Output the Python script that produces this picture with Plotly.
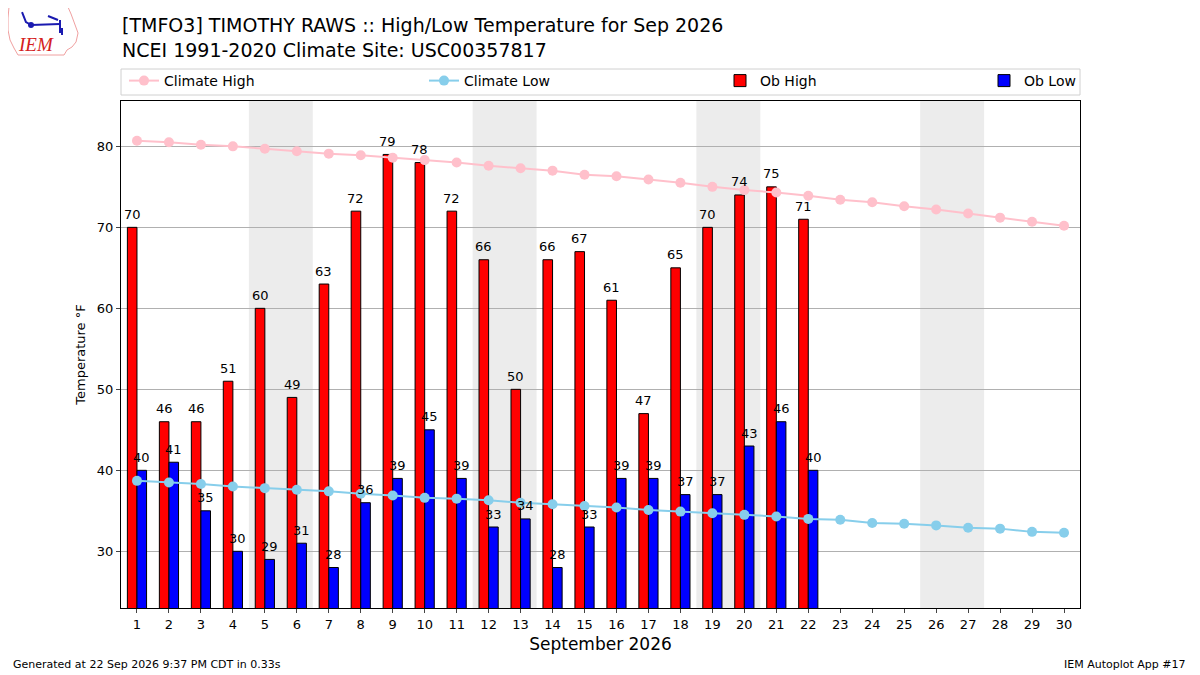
import plotly.graph_objects as go

# September 2026 daily obs and NCEI climatology
days = list(range(1, 31))
ob_high = [70, 46, 46, 51, 60, 49, 63, 72, 79, 78, 72, 66, 50, 66, 67, 61, 47, 65, 70, 74, 75, 71]
ob_low = [40, 41, 35, 30, 29, 31, 28, 36, 39, 45, 39, 33, 34, 28, 33, 39, 39, 37, 37, 43, 46, 40]
climate_high = [80.7, 80.5, 80.2, 80.0, 79.7, 79.4, 79.1, 78.9, 78.6, 78.3, 78.0, 77.6, 77.3, 77.0, 76.5,
                76.3, 75.9, 75.5, 75.0, 74.6, 74.3, 73.9, 73.4, 73.1, 72.6, 72.2, 71.7, 71.2, 70.7, 70.2]
climate_low = [38.7, 38.5, 38.3, 38.0, 37.8, 37.6, 37.4, 37.1, 36.9, 36.6, 36.5, 36.3, 36.0, 35.8, 35.6,
               35.4, 35.1, 34.9, 34.7, 34.5, 34.3, 34.0, 33.9, 33.5, 33.4, 33.2, 32.9, 32.8, 32.4, 32.3]
weekend_starts = [5, 12, 19, 26]

FONT = "DejaVu Sans"
OFF = 8  # page body margin in the browser
W, H = 1200 - OFF, 675 - OFF
ml, mr, mt, mb = 121 - OFF, 120, 101 - OFF, 67
ph = H - mt - mb
pw = W - ml - mr
BAR_SHIFT = 0.15  # half of a bar slot in the grouped layout


def py(y_px):
    # screen pixel row -> paper y
    return (H - mb - (y_px - OFF)) / ph


def px_(x_px):
    return (x_px - OFF - ml) / pw


fig = go.Figure()

fig.add_trace(go.Bar(x=days[:len(ob_high)], y=ob_high, name="Ob High", legend="legend3",
                     marker=dict(color="red", line=dict(color="black", width=1))))
fig.add_trace(go.Bar(x=days[:len(ob_low)], y=ob_low, name="Ob Low", legend="legend4",
                     marker=dict(color="blue", line=dict(color="black", width=1))))
fig.add_trace(go.Scatter(x=days, y=climate_high, name="Climate High", mode="lines+markers", legend="legend",
                         line=dict(color="pink", width=2), marker=dict(size=10, color="pink")))
fig.add_trace(go.Scatter(x=days, y=climate_low, name="Climate Low", mode="lines+markers", legend="legend2",
                         line=dict(color="skyblue", width=2), marker=dict(size=10, color="skyblue")))

# bar value labels, drawn on top of everything
for vals, shift in ((ob_high, -BAR_SHIFT), (ob_low, BAR_SHIFT)):
    for d, v in zip(days, vals):
        fig.add_annotation(x=d + shift, y=v, xref="x", yref="y", text=str(v), showarrow=False,
                           xanchor="center", yanchor="middle", yshift=13,
                           font=dict(size=13, color="black", family=FONT))

for d in weekend_starts:
    fig.add_shape(type="rect", xref="x", yref="paper", x0=d - 0.5, x1=d + 1.5, y0=0, y1=1,
                  fillcolor="#ececec", line=dict(width=0), layer="below")

# legend frame
fig.add_shape(type="rect", xref="paper", yref="paper", x0=0, x1=1, y0=py(95), y1=py(69),
              line=dict(color="#d0d0d0", width=1), fillcolor="rgba(0,0,0,0)", layer="below")

fig.add_annotation(x=px_(120), y=py(12), xref="paper", yref="paper", xanchor="left", yanchor="top",
                   align="left", showarrow=False, font=dict(size=19, color="black", family=FONT),
                   text="[TMFO3] TIMOTHY RAWS :: High/Low Temperature for Sep 2026<br>NCEI 1991-2020 Climate Site: USC00357817")
fig.add_annotation(x=px_(11), y=py(673), xref="paper", yref="paper", xanchor="left", yanchor="bottom",
                   showarrow=False, font=dict(size=11, color="black", family=FONT),
                   text="Generated at 22 Sep 2026 9:37 PM CDT in 0.33s")
fig.add_annotation(x=px_(1188), y=py(673), xref="paper", yref="paper", xanchor="right", yanchor="bottom",
                   showarrow=False, font=dict(size=11, color="black", family=FONT),
                   text="IEM Autoplot App #17")


def pth(pts, close=False):
    s = "M " + " L ".join(f"{px_(a):.4f},{py(b):.4f}" for a, b in pts)
    return s + (" Z" if close else "")


# logo: rough state outline, station glyph and IEM text
outline = [(9, 7), (68, 7), (71, 14), (74, 22), (78, 33), (76, 42), (72, 47), (67, 50), (64, 55),
           (18, 55), (14, 48), (10, 40), (8, 30), (8, 18)]
fig.add_shape(type="path", xref="paper", yref="paper", path=pth(outline, True),
              line=dict(color="#f0a0a0", width=1), fillcolor="rgba(0,0,0,0)")
glyph = [[(31, 25), (60, 24)], [(60, 20), (60, 33)], [(48, 16), (58, 20)], [(22, 12), (26, 22), (31, 25)],
         [(62, 28), (62, 35)]]
for seg in glyph:
    fig.add_shape(type="path", xref="paper", yref="paper", path=pth(seg),
                  line=dict(color="#1a1ab0", width=2))
fig.add_shape(type="circle", xref="paper", yref="paper", x0=px_(28), x1=px_(34), y0=py(28), y1=py(22),
              fillcolor="#1a1ab0", line=dict(width=0))
fig.add_annotation(x=px_(36), y=py(44), xref="paper", yref="paper", xanchor="center", yanchor="middle",
                   showarrow=False, font=dict(size=19, color="#d42020", family="Liberation Serif"),
                   text="<i>IEM</i>")

leg = dict(orientation="h", yanchor="middle", xanchor="left", bgcolor="rgba(0,0,0,0)",
           borderwidth=0, font=dict(size=14, family=FONT, color="black"))
fig.update_layout(
    width=W, height=H,
    margin=dict(l=ml, r=mr, t=mt, b=mb, autoexpand=False),
    paper_bgcolor="white", plot_bgcolor="white",
    font=dict(family=FONT, size=13, color="black"),
    barmode="group", bargap=0.4, bargroupgap=0,
    showlegend=True,
    legend=dict(leg, x=px_(124), y=py(81)),
    legend2=dict(leg, x=px_(424), y=py(81)),
    legend3=dict(leg, x=px_(720), y=py(81)),
    legend4=dict(leg, x=px_(984), y=py(81)),
)

fig.update_xaxes(range=[0.5, 30.5], tickmode="array", tickvals=days, ticktext=[str(d) for d in days],
                 showgrid=False, showline=True, linecolor="black", mirror=True, ticks="outside",
                 ticklen=4, tickfont=dict(size=13),
                 title=dict(text="September 2026", font=dict(size=17), standoff=7))
fig.update_yaxes(range=[23, 85.6], tickvals=[30, 40, 50, 60, 70, 80],
                 showgrid=True, gridcolor="#b0b0b0", gridwidth=1, zeroline=False,
                 showline=True, linecolor="black", mirror=True, ticks="outside", ticklen=4,
                 tickfont=dict(size=13), title=dict(text="Temperature °F", font=dict(size=13), standoff=8))

fig.write_html("out.html")
